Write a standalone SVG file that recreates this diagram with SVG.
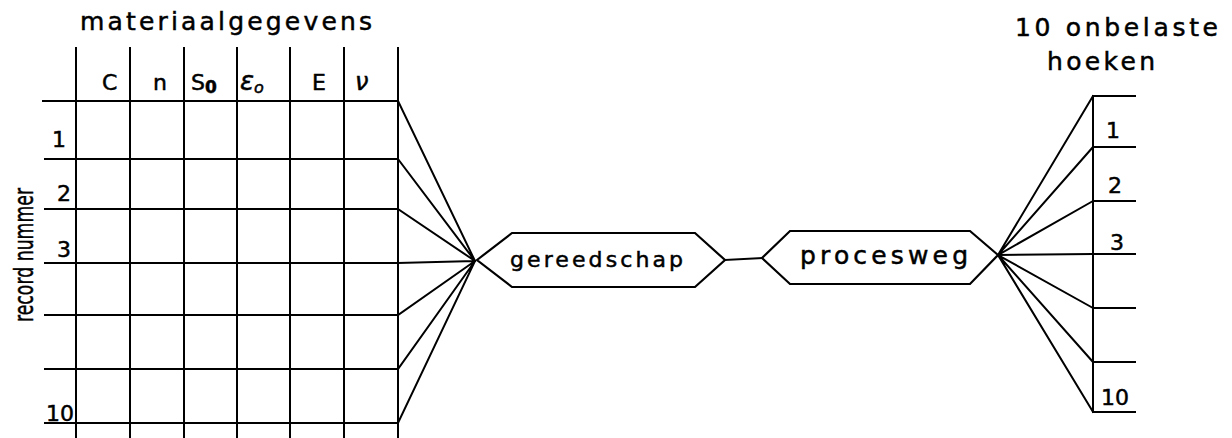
<svg xmlns="http://www.w3.org/2000/svg" width="1232" height="438" viewBox="0 0 1232 438">
<style>
.ln{stroke:#000;stroke-width:2;fill:none;stroke-linecap:square}
.hx{stroke:#000;stroke-width:2.2;fill:#fff;stroke-linejoin:miter}
.t{font-family:"DejaVu Sans","Liberation Sans",sans-serif;fill:#000;stroke:#000;stroke-width:0.5}
</style>
<rect width="1232" height="438" fill="#fff"/>
<g id="table">
<text class="t" x="80" y="30" font-size="25" textLength="292" lengthAdjust="spacing">materiaalgegevens</text>
<g class="ln">
<path d="M76 48V438M130 48V438M184 48V438M237 48V438M290 48V438M344 48V438M398 48V438"/>
<path d="M43 101H398M45 159H398M45 209H398M45 263H398M45 315H398M45 369H398M45 423H398"/>
</g>
<text class="t" x="102" y="90" font-size="22">C</text>
<text class="t" x="153" y="90" font-size="22">n</text>
<text class="t" x="191" y="90" font-size="22">S<tspan font-size="17" dy="3" font-weight="bold">0</tspan></text>
<text class="t" x="240" y="90" font-size="26" font-style="italic">ε<tspan font-size="16" dy="3">o</tspan></text>
<text class="t" x="312" y="90" font-size="22">E</text>
<text class="t" x="355" y="90" font-size="24" font-style="italic">ν</text>
<text class="t" x="52" y="147" font-size="22">1</text>
<text class="t" x="57" y="201" font-size="22">2</text>
<text class="t" x="57" y="257" font-size="22">3</text>
<text class="t" x="46" y="421" font-size="22">10</text>
<text class="t" transform="translate(33 322) rotate(-90)" font-size="27" textLength="134" lengthAdjust="spacingAndGlyphs">record nummer</text>
</g>
<g id="connectors" class="ln">
<path d="M398 101L475 261M398 159L475 261M398 209L475 261M398 263L475 261M398 315L475 261M398 369L475 261M398 423L475 261"/>
<path d="M725 260L762 258"/>
<path d="M998 255L1093 96M998 255L1093 147M998 255L1093 201M998 255L1093 254M998 255L1093 308M998 255L1093 362M998 255L1093 412"/>
</g>
<g id="gereedschap">
<polygon class="hx" points="477,260 512,233 695,233 725,260 695,287 512,287"/>
<text class="t" x="510" y="267" font-size="22" textLength="173" lengthAdjust="spacing">gereedschap</text>
</g>
<g id="procesweg">
<polygon class="hx" points="762,258 790,231 970,231 998,255 970,284 790,284"/>
<text class="t" x="800" y="264" font-size="25" textLength="168" lengthAdjust="spacing">procesweg</text>
</g>
<g id="hoeken">
<text class="t" x="1015" y="36" font-size="25" textLength="203" lengthAdjust="spacing">10 onbelaste</text>
<text class="t" x="1047" y="70" font-size="25" textLength="108" lengthAdjust="spacing">hoeken</text>
<g class="ln">
<path d="M1093 96V412"/>
<path d="M1093 96H1135M1093 147H1135M1093 201H1135M1093 254H1135M1093 308H1135M1093 362H1135M1093 412H1135"/>
</g>
<text class="t" x="1106" y="138" font-size="22">1</text>
<text class="t" x="1108" y="193" font-size="22">2</text>
<text class="t" x="1110" y="250" font-size="22">3</text>
<text class="t" x="1101" y="405" font-size="22">10</text>
</g>
</svg>
